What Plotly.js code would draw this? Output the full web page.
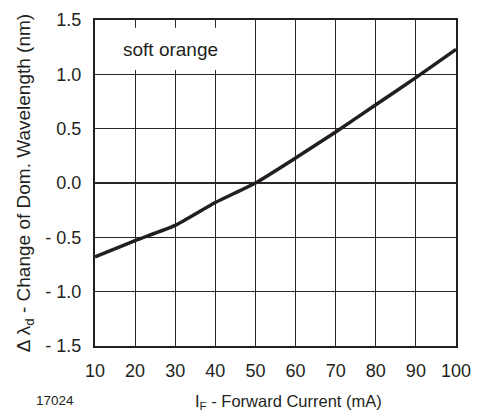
<!DOCTYPE html>
<html>
<head>
<meta charset="utf-8">
<script src="https://cdn.plot.ly/plotly-3.0.1.min.js"></script>
<style>html,body{margin:0;padding:0;background:#fff;}#chart{width:479px;height:416px;}</style>
</head>
<body>
<div id="chart"></div>
<script>
const currentMA = [10, 20, 30, 40, 50, 60, 70, 80, 90, 100];
const deltaWavelength = [-0.68, -0.53, -0.39, -0.18, 0.0, 0.23, 0.47, 0.72, 0.97, 1.23];
const xTickVals = [10, 20, 30, 40, 50, 60, 70, 80, 90, 100];
const xTickText = ["10", "20", "30", "40", "50", "60", "70", "80", "90", "100"];
const yTickVals = [1.5, 1.0, 0.5, 0.0, -0.5, -1.0, -1.5];
const yTickText = ["1.5", "1.0", "0.5", "0.0", "- 0.5", "- 1.0", "- 1.5"];
const seriesLabel = "soft orange";
const xTitle = "I<sub>F</sub> - Forward Current (mA)";
const yTitle = "\u0394 \u03bb<sub>d</sub> - Change of Dom. Wavelength (nm)";
const figureId = "17024";

const ink = "#231f20";
const fontFam = "Liberation Sans, Arial, Helvetica, sans-serif";

const trace = {
  x: currentMA, y: deltaWavelength, type: "scatter", mode: "lines",
  line: {color: ink, width: 3.5, shape: "spline", smoothing: 0.5},
  hoverinfo: "skip", showlegend: false
};

const layout = {
  width: 479, height: 416,
  margin: {l: 95, r: 23, t: 20, b: 70},
  paper_bgcolor: "#fff", plot_bgcolor: "#fff",
  font: {family: fontFam, size: 18, color: ink},
  xaxis: {
    range: [10, 100], tickvals: xTickVals, ticktext: xTickText,
    showgrid: true, gridcolor: "#2a2627", gridwidth: 1.2,
    showline: true, linecolor: ink, linewidth: 2.2, mirror: true,
    ticks: "", zeroline: false, ticklabelstandoff: 7,
    tickfont: {size: 18, color: ink}, fixedrange: true
  },
  yaxis: {
    range: [-1.5, 1.5], tickvals: yTickVals, ticktext: yTickText,
    showgrid: true, gridcolor: "#2a2627", gridwidth: 1.2,
    showline: true, linecolor: ink, linewidth: 2.2, mirror: true,
    ticks: "", zeroline: false, ticklabelstandoff: 8,
    tickfont: {size: 18, color: ink}, fixedrange: true,
    title: {text: yTitle, font: {size: 19, color: ink}, standoff: 10}
  },
  shapes: [{
    type: "rect", xref: "x", yref: "paper", layer: "above",
    x0: 10.5, x1: 46, y0: 0.847, y1: 0.976,
    fillcolor: "#fff", line: {width: 0}
  }],
  annotations: [
    {text: seriesLabel, xref: "x", yref: "y", x: 28.8, y: 1.23, showarrow: false,
     font: {size: 19, color: ink}, xanchor: "center", yanchor: "middle"},
    {text: xTitle, xref: "paper", yref: "paper", x: (288 - 95) / 361, y: -0.172,
     showarrow: false, font: {size: 16.5, color: ink}, xanchor: "center", yanchor: "middle"},
    {text: figureId, xref: "paper", yref: "paper", x: (55 - 95) / 361, y: -0.168,
     showarrow: false, font: {size: 13.5, color: ink}, xanchor: "center", yanchor: "middle"}
  ]
};

Plotly.newPlot("chart", [trace], layout, {displayModeBar: false, staticPlot: true});
</script>
</body>
</html>
